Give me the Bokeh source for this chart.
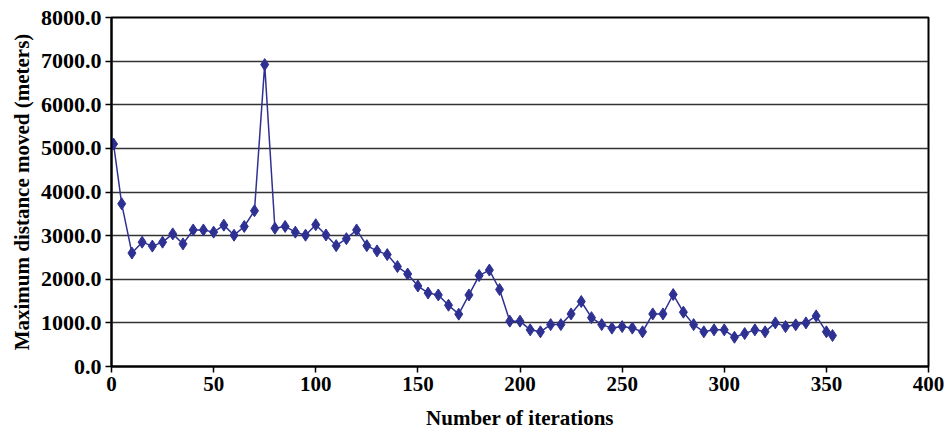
from bokeh.plotting import figure
from bokeh.models import Range1d, SingleIntervalTicker, NumeralTickFormatter, ColumnDataSource
from bokeh.embed import file_html
from bokeh.resources import INLINE

iterations = [1, 5, 10, 15, 20, 25, 30, 35, 40, 45, 50, 55, 60, 65, 70, 75, 80, 85, 90, 95,
              100, 105, 110, 115, 120, 125, 130, 135, 140, 145, 150, 155, 160, 165, 170, 175,
              180, 185, 190, 195, 200, 205, 210, 215, 220, 225, 230, 235, 240, 245, 250, 255,
              260, 265, 270, 275, 280, 285, 290, 295, 300, 305, 310, 315, 320, 325, 330, 335,
              340, 345, 350, 353]
max_distance = [5100, 3730, 2600, 2850, 2760, 2850, 3040, 2810, 3130, 3130, 3080, 3240, 3010,
                3210, 3570, 6920, 3170, 3210, 3080, 3010, 3250, 3015, 2770, 2930, 3130, 2770,
                2650, 2565, 2290, 2120, 1845, 1685, 1640, 1405, 1200, 1640, 2085, 2210, 1765,
                1040, 1040, 840, 795, 960, 960, 1205, 1490, 1120, 960, 880, 915, 880, 795, 1205,
                1205, 1650, 1245, 960, 795, 840, 840, 670, 755, 840, 795, 1000, 915, 955, 1000,
                1160, 795, 710]

x_title = "Number of iterations"
y_title = "Maximum distance moved (meters)"

src = ColumnDataSource(data=dict(x=iterations, y=max_distance))

p = figure(width=949, height=432, output_backend="svg", toolbar_location=None,
           x_range=Range1d(0, 400), y_range=Range1d(0, 8000),
           min_border_left=111, min_border_right=21, min_border_top=17, min_border_bottom=0)

FONT = "Liberation Serif"
line_color = "#2E3192"

p.line("x", "y", source=src, line_color=line_color, line_width=1.5)
p.scatter("x", "y", source=src, marker="diamond", size=12, fill_color=line_color,
          line_color=line_color)

p.xaxis.ticker = SingleIntervalTicker(interval=50)
p.yaxis.ticker = SingleIntervalTicker(interval=1000)
p.yaxis.formatter = NumeralTickFormatter(format="0.0")

for ax in (p.xaxis, p.yaxis):
    ax.axis_line_color = "black"
    ax.axis_line_width = 2
    ax.major_tick_line_color = "black"
    ax.major_tick_line_width = 1.5
    ax.major_tick_out = 6
    ax.major_tick_in = 0
    ax.minor_tick_line_color = None
    ax.major_label_text_font = FONT
    ax.major_label_text_font_style = "bold"
    ax.major_label_text_font_size = "22px"
    ax.major_label_text_color = "black"
    ax.axis_label_text_font = FONT
    ax.axis_label_text_font_style = "bold"
    ax.axis_label_text_font_size = "21px"
    ax.axis_label_text_color = "black"

p.xaxis.axis_label = x_title
p.yaxis.axis_label = y_title
p.xaxis.major_label_text_font_size = "21px"
p.xaxis.major_label_standoff = 4
p.yaxis.major_label_standoff = 4
p.xaxis.axis_label_standoff = 12
p.yaxis.axis_label_standoff = 4

p.xgrid.grid_line_color = None
p.ygrid.grid_line_color = "#333333"
p.ygrid.grid_line_width = 1.5

p.outline_line_color = "black"
p.outline_line_width = 2
p.background_fill_color = "white"
p.border_fill_color = "white"

open("out.html", "w").write(file_html(p, INLINE))
